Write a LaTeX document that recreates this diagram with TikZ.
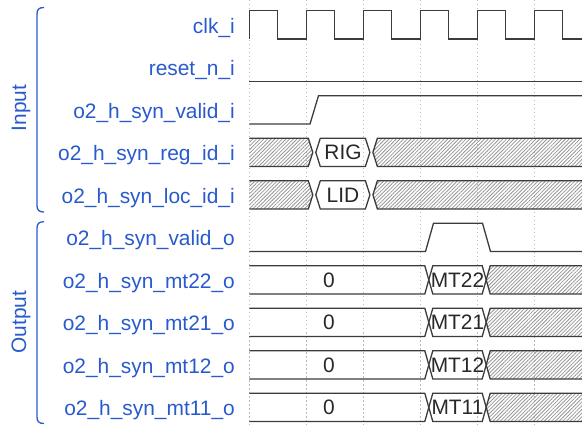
\documentclass[tikz,border=0pt]{standalone}
\usepackage{fontspec}
\setmainfont{Liberation Sans}
\usetikzlibrary{patterns.meta}
\definecolor{lblue}{RGB}{40,90,205}
\definecolor{sigc}{RGB}{60,60,60}
\definecolor{gridc}{RGB}{185,185,185}
\definecolor{hatchc}{RGB}{150,150,150}
\definecolor{txtc}{RGB}{40,40,40}
% open-left region: style, T, B, right transition centre, half width, point offset
\newcommand\tdRegL[6]{%
  \pgfmathsetmacro\tdMid{(#2+#3)/2}%
  \path[#1] (249.3,#2) -- ({#4-#5},#2) -- ({#4-#6},\tdMid) -- ({#4-#5},#3) -- (249.3,#3) -- cycle;
  \draw[sig] (249.3,#2) -- ({#4-#5},#2) -- ({#4-#6},\tdMid) -- ({#4-#5},#3) -- (249.3,#3);
}
% middle region: style, T, B, left centre, right centre, half width, point offset
\newcommand\tdRegM[7]{%
  \pgfmathsetmacro\tdMid{(#2+#3)/2}%
  \path[#1] ({#4+#6},#2) -- ({#5-#6},#2) -- ({#5-#7},\tdMid) -- ({#5-#6},#3) -- ({#4+#6},#3) -- ({#4+#7},\tdMid) -- cycle;
  \draw[sig] ({#4+#6},#2) -- ({#5-#6},#2) -- ({#5-#7},\tdMid) -- ({#5-#6},#3) -- ({#4+#6},#3) -- ({#4+#7},\tdMid) -- cycle;
}
% open-right region: style, T, B, left centre, half width, point offset
\newcommand\tdRegR[6]{%
  \pgfmathsetmacro\tdMid{(#2+#3)/2}%
  \path[#1] ({#4+#5},#2) -- (600,#2) -- (600,#3) -- ({#4+#5},#3) -- ({#4+#6},\tdMid) -- cycle;
  \draw[sig] (600,#2) -- ({#4+#5},#2) -- ({#4+#6},\tdMid) -- ({#4+#5},#3) -- (600,#3);
}
\begin{document}
\begin{tikzpicture}[x=1pt,y=-1pt,
  sig/.style={draw=sigc,line width=1.3pt,line join=miter},
  hatch/.style={pattern={Lines[angle=45,distance=2.6pt,line width=0.8pt]},pattern color=hatchc},
  plain/.style={},
  gridline/.style={draw=gridc,line width=0.8pt,dash pattern=on 1.5pt off 2.5pt},
  lbl/.style={font=\fontsize{20.9}{24}\selectfont,text=lblue,inner sep=0pt,anchor=base east},
  grp/.style={font=\fontsize{20.9}{24}\selectfont,text=lblue,inner sep=0pt,rotate=90},
  dtext/.style={font=\fontsize{20.9}{24}\selectfont,text=txtc,inner sep=0pt},
  brk/.style={draw=lblue,line width=1.3pt}]
\useasboundingbox (0,0) rectangle (582,425);
\clip (0,0) rectangle (582,425);

% grid
\foreach \k in {0,...,5} \draw[gridline] ({249.3+57*\k},0) -- ({249.3+57*\k},425);

% group brackets and names
\draw[brk] (44,7.5) .. controls (39,7.5) and (37,9.5) .. (37,14) -- (37,205.5) .. controls (37,210) and (39,212) .. (44,212);
\draw[brk] (44,221.7) .. controls (39,221.7) and (37,223.7) .. (37,228.2) -- (37,417) .. controls (37,421.5) and (39,423.5) .. (44,423.5);
\node[grp] (gin) at (21,108) {Input};
\node[grp] (gout) at (21,322) {Output};

% signal names
\node[lbl] (l0) at (235,33.25) {clk\_i};
\node[lbl] (l1) at (235,75.75) {reset\_n\_i};
\node[lbl] (l2) at (235,118.25) {o2\_h\_syn\_valid\_i};
\node[lbl] (l3) at (235,160.75) {o2\_h\_syn\_reg\_id\_i};
\node[lbl] (l4) at (235,203.25) {o2\_h\_syn\_loc\_id\_i};
\node[lbl] (l5) at (235,245.75) {o2\_h\_syn\_valid\_o};
\node[lbl] (l6) at (235,288.25) {o2\_h\_syn\_mt22\_o};
\node[lbl] (l7) at (235,330.75) {o2\_h\_syn\_mt21\_o};
\node[lbl] (l8) at (235,373.25) {o2\_h\_syn\_mt12\_o};
\node[lbl] (l9) at (235,415.75) {o2\_h\_syn\_mt11\_o};

% clk_i
\draw[sig] (249.3,39) \foreach \k in {0,...,5}{ -- ({249.3+57*\k},10.7) -- ({277.8+57*\k},10.7) -- ({277.8+57*\k},39) -- ({306.3+57*\k},39) };
% reset_n_i
\draw[sig] (249.3,81.5) -- (600,81.5);
% valid_i
\draw[sig] (249.3,124) -- (310,124) -- (318.5,95.7) -- (600,95.7);
% reg_id_i
\tdRegL{hatch}{138.2}{166.5}{314.3}{6}{1.5}
\tdRegM{plain}{138.2}{166.5}{314.3}{371.4}{6}{1.5}
\tdRegR{hatch}{138.2}{166.5}{371.4}{6}{1.5}
\node[dtext] (t3) at (343,152.35) {RIG};
% loc_id_i
\tdRegL{hatch}{180.7}{209}{314.3}{6}{1.5}
\tdRegM{plain}{180.7}{209}{314.3}{371.4}{6}{1.5}
\tdRegR{hatch}{180.7}{209}{371.4}{6}{1.5}
\node[dtext] (t4) at (343,194.85) {LID};
% valid_o
\draw[sig] (249.3,251.5) -- (425.5,251.5) -- (433.5,223.2) -- (482.5,223.2) -- (490.5,251.5) -- (600,251.5);
% mt rows
\tdRegL{plain}{265.7}{294}{428.8}{4}{0}
\tdRegM{plain}{265.7}{294}{428.8}{486.2}{4}{0}
\tdRegR{hatch}{265.7}{294}{486.2}{4}{0}
\node[dtext] (z6) at (329,279.85) {0};
\node[dtext] (t6) at (457.5,279.85) {MT22};

\tdRegL{plain}{308.2}{336.5}{428.8}{4}{0}
\tdRegM{plain}{308.2}{336.5}{428.8}{486.2}{4}{0}
\tdRegR{hatch}{308.2}{336.5}{486.2}{4}{0}
\node[dtext] (z7) at (329,322.35) {0};
\node[dtext] (t7) at (457.5,322.35) {MT21};

\tdRegL{plain}{350.7}{379}{428.8}{4}{0}
\tdRegM{plain}{350.7}{379}{428.8}{486.2}{4}{0}
\tdRegR{hatch}{350.7}{379}{486.2}{4}{0}
\node[dtext] (z8) at (329,364.85) {0};
\node[dtext] (t8) at (457.5,364.85) {MT12};

\tdRegL{plain}{393.2}{421.5}{428.8}{4}{0}
\tdRegM{plain}{393.2}{421.5}{428.8}{486.2}{4}{0}
\tdRegR{hatch}{393.2}{421.5}{486.2}{4}{0}
\node[dtext] (z9) at (329,407.35) {0};
\node[dtext] (t9) at (457.5,407.35) {MT11};
\end{tikzpicture}
\end{document}
